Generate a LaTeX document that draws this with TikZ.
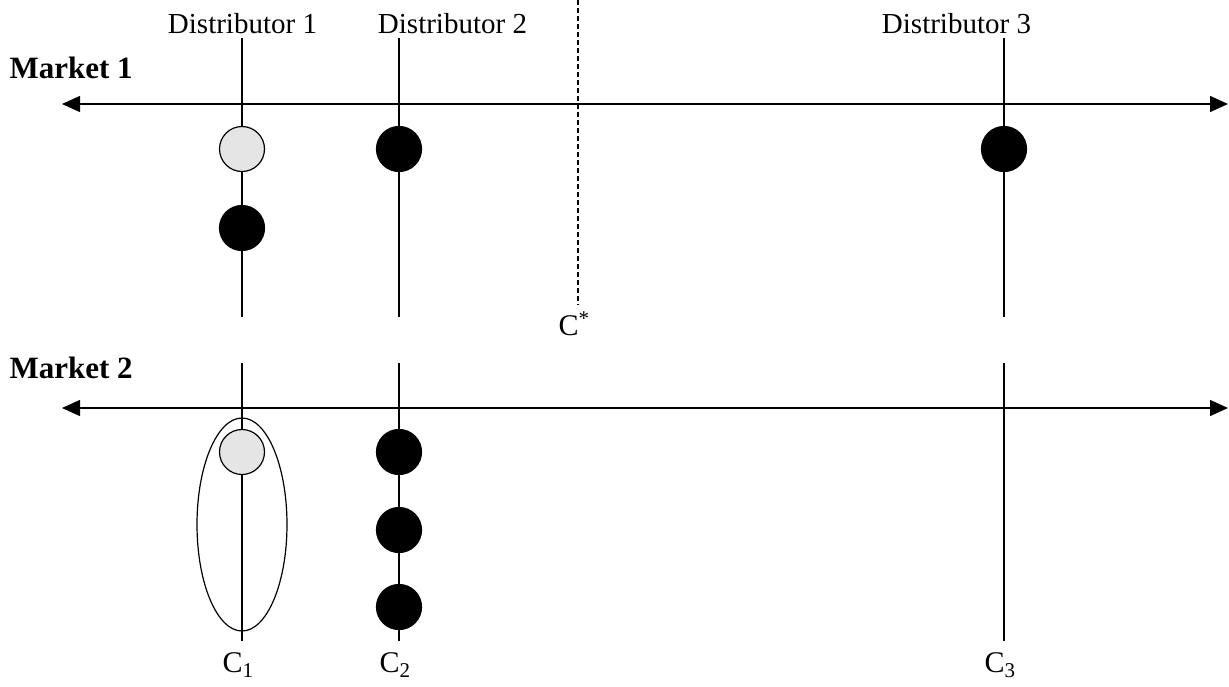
\documentclass[tikz,border=0pt]{standalone}
\usepackage{fontspec}
\setmainfont{Liberation Serif}
\usetikzlibrary{arrows.meta}
\tikzset{
  firm/.style={circle,draw,fill=black,minimum size=45pt,inner sep=0pt},
  entrant/.style={firm,fill=gray!20},
  txt/.style={font=\fontsize{29}{32}\selectfont,inner sep=0pt,anchor=base},
  cost/.style={font=\fontsize{30}{33}\selectfont,inner sep=0pt,anchor=base west},
  mkt/.style={font=\fontsize{31}{34}\selectfont\bfseries,inner sep=0pt,anchor=base west},
  axis/.style={{Triangle[length=18pt,width=16pt]}-{Triangle[length=18pt,width=16pt]}}
}

\begin{document}
\begin{tikzpicture}[x=1pt,y=-1pt,line width=1.2pt]
		\useasboundingbox (0,0) rectangle (1229,686);
		\coordinate (d1t) at (242,38);  \coordinate (d1b) at (242,317);
		\coordinate (d2t) at (399,38);  \coordinate (d2b) at (399,317);
		\coordinate (d3t) at (1004,38); \coordinate (d3b) at (1004,317);
		\coordinate (e1t) at (242,363); \coordinate (e1b) at (242,641);
		\coordinate (e2t) at (399,363); \coordinate (e2b) at (399,641);
		\coordinate (e3t) at (1004,363); \coordinate (e3b) at (1004,641);
		\coordinate (cst) at (578,0);   \coordinate (csb) at (578,305);
		\coordinate (m1w) at (62,104);  \coordinate (m1e) at (1228,104);
		\coordinate (m2w) at (62,408);  \coordinate (m2e) at (1228,408);
		\draw (d1t) -- (d1b) (d2t) -- (d2b) (d3t) -- (d3b);
		\draw (e1t) -- (e1b) (e2t) -- (e2b) (e3t) -- (e3b);
		\draw[dash pattern=on 5pt off 3pt] (cst) -- (csb);
		\draw[axis] (m1w) -- (m1e);
		\draw[axis] (m2w) -- (m2e);
		\node[txt] (dist1) at (242.5,33) {Distributor 1};
		\node[txt] (dist2) at (452.5,33) {Distributor 2};
		\node[txt] (dist3) at (956.5,33) {Distributor 3};
		\node[mkt] (mkt1) at (9,78) {Market 1};
		\node[mkt] (mkt2) at (9,378) {Market 2};
		\node[entrant] (a1) at (242,149) {};
		\node[firm] (a2) at (242,228) {};
		\node[firm] (b1) at (399,149) {};
		\node[firm] (c1) at (1004,149) {};
		\node[entrant] (p1) at (242,452) {};
		\node[firm] (q1) at (399,452) {};
		\node[firm] (q2) at (399,530) {};
		\node[firm] (q3) at (399,607) {};
		\draw (242,524.5) ellipse [x radius=45, y radius=106.5];
		\node[cost] (cstar) at (558,335) {C\textsuperscript{*}};
		\node[cost] (cc1) at (222,672) {C\textsubscript{1}};
		\node[cost] (cc2) at (379,672) {C\textsubscript{2}};
		\node[cost] (cc3) at (984,672) {C\textsubscript{3}};
	\end{tikzpicture}
\end{document}
